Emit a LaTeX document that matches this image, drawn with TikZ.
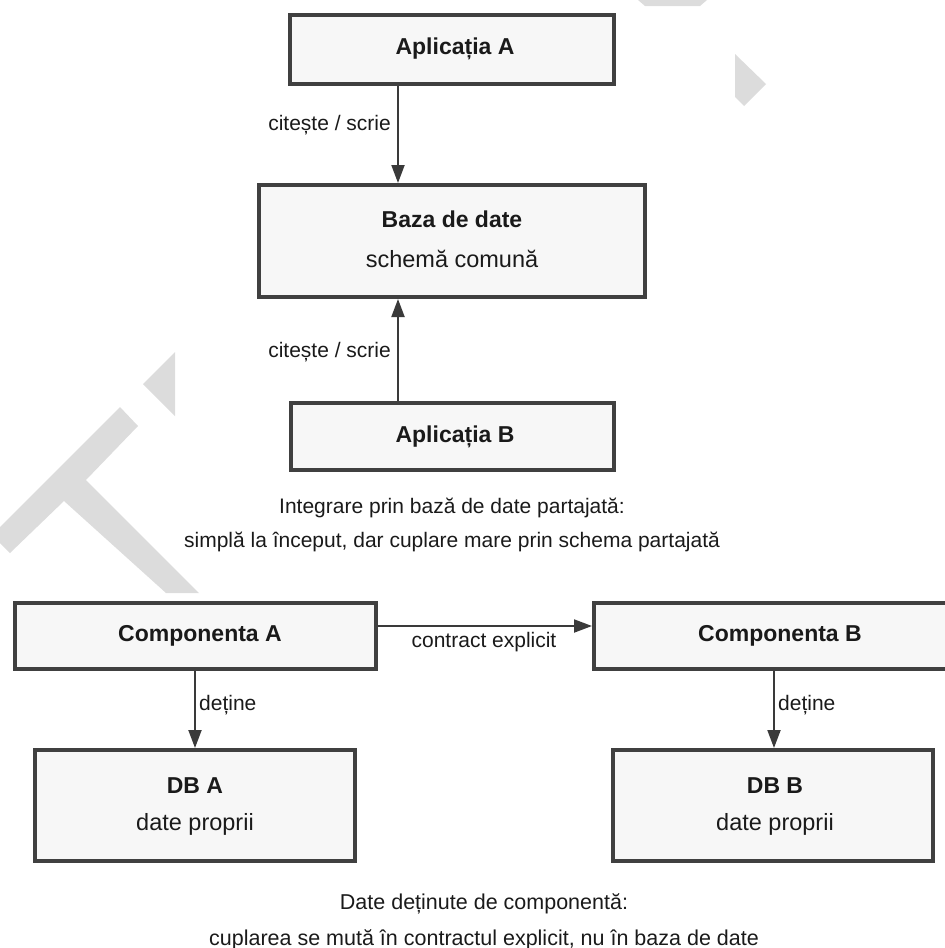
\documentclass[tikz,border=0pt]{standalone}
\usepackage{fontspec}
\setmainfont{Liberation Sans}
\usetikzlibrary{arrows.meta}
\definecolor{boxfill}{HTML}{F7F7F7}
\definecolor{boxline}{HTML}{404040}
\definecolor{ink}{HTML}{1A1A1A}
\definecolor{edgecol}{HTML}{3A3A3A}
\definecolor{wmark}{HTML}{DCDCDC}
\begin{document}
\begin{tikzpicture}[x=1pt,y=-1pt,
  box/.style={rectangle, draw=boxline, line width=4pt, fill=boxfill, inner sep=0pt},
  title/.style={font=\fontsize{23}{26}\selectfont\bfseries, text=ink, anchor=base, inner sep=0pt},
  sub/.style={font=\fontsize{23.5}{26}\selectfont, text=ink, anchor=base, inner sep=0pt},
  txt/.style={font=\fontsize{21}{24}\selectfont, text=ink, anchor=base, inner sep=0pt},
  lbl/.style={font=\fontsize{21}{24}\selectfont, text=ink, inner sep=0pt},
  arr/.style={draw=edgecol, line width=2pt, -{Triangle[length=18pt,width=13pt]}},
]
\useasboundingbox (0,0) rectangle (945,948);

% faint background marks
\fill[wmark] (638,0) -- (707,0) -- (700,6) -- (645,6) -- cycle;
\fill[wmark] (735,54) -- (766,84) -- (744,106) -- (735,97) -- cycle;
\fill[wmark] (175,352) -- (175,416) -- (143,384) -- cycle;
\fill[wmark] (120,407) -- (138,426) -- (86,480) -- (199,593) -- (166,593)
  -- (64,501) -- (10,553) -- (0,543) -- (0,527) -- cycle;

% shared database
\node[box, minimum width=324pt, minimum height=69pt] (appA) at (452,49.5) {};
\node[box, minimum width=386pt, minimum height=112pt] (db) at (452,241) {};
\node[box, minimum width=323pt, minimum height=67pt] (appB) at (452.5,436.5) {};

\node[title] (appAt) at (455,54) {Aplicația A};
\node[title] (dbt) at (452,227) {Baza de date};
\node[sub] (dbs) at (452,267) {schemă comună};
\node[title] (appBt) at (455,442) {Aplicația B};

\coordinate (colAB) at (398,0);
\draw[arr] (colAB |- appA.south) -- (colAB |- db.north);
\draw[arr] (colAB |- appB.north) -- (colAB |- db.south);
\node[lbl, anchor=base east] (rwA) at (391,130) {citește / scrie};
\node[lbl, anchor=base east] (rwB) at (391,357) {citește / scrie};

\node[txt] (cap1) at (452,513) {Integrare prin bază de date partajată:};
\node[txt] (cap2) at (452,547) {simplă la început, dar cuplare mare prin schema partajată};

% component-owned data
\node[box, minimum width=361pt, minimum height=66pt] (compA) at (195.5,636) {};
\node[box, minimum width=361pt, minimum height=66pt] (compB) at (774.5,636) {};
\node[box, minimum width=320pt, minimum height=111pt] (dbA) at (195,805.5) {};
\node[box, minimum width=320pt, minimum height=111pt] (dbB) at (773,805.5) {};

\node[title] (compAt) at (200,641) {Componenta A};
\node[title] (compBt) at (780,641) {Componenta B};
\node[title] (dbAt) at (195,793) {DB A};
\node[sub] (dbAs) at (195,830) {date proprii};
\node[title] (dbBt) at (775,793) {DB B};
\node[sub] (dbBs) at (775,830) {date proprii};

\coordinate (rowC) at (0,626);
\draw[arr] (compA.east |- rowC) -- (compB.west |- rowC);
\node[lbl, anchor=base] (ctr) at (484,647) {contract explicit};

\coordinate (colA) at (195,0);
\coordinate (colB) at (774,0);
\draw[arr] (colA |- compA.south) -- (colA |- dbA.north);
\draw[arr] (colB |- compB.south) -- (colB |- dbB.north);
\node[lbl, anchor=base west] (ownA) at (199,710) {deține};
\node[lbl, anchor=base west] (ownB) at (778,710) {deține};

\node[txt, font=\fontsize{21.5}{24}\selectfont] (cap3) at (484,909) {Date deținute de componentă:};
\node[txt, font=\fontsize{21.5}{24}\selectfont] (cap4) at (484,945) {cuplarea se mută în contractul explicit, nu în baza de date};
\end{tikzpicture}
\end{document}
